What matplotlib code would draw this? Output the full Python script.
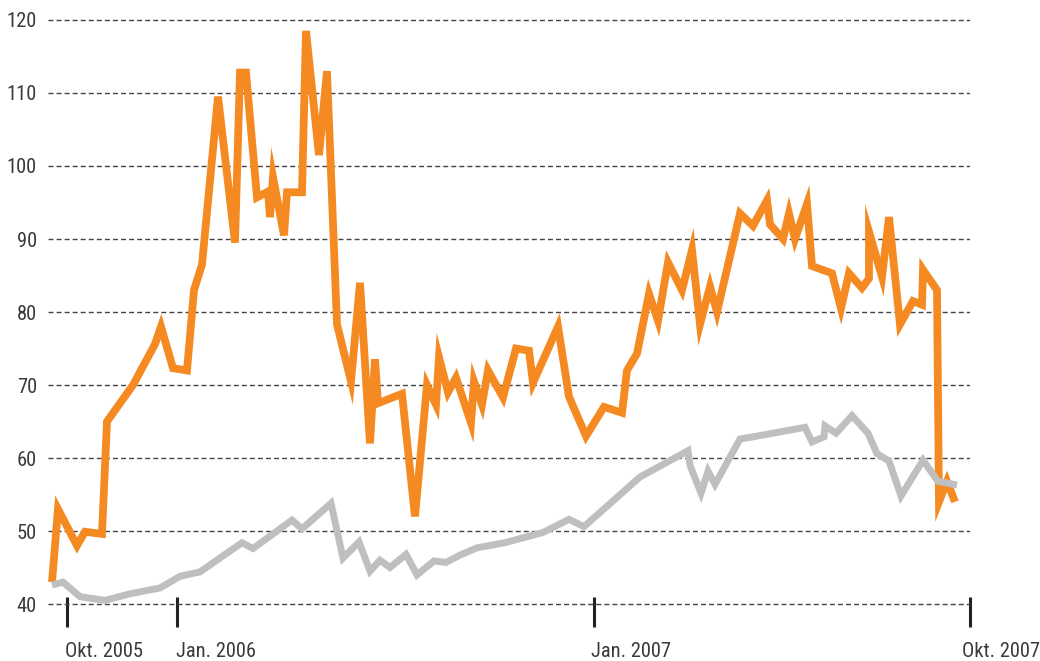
import matplotlib
matplotlib.use("Agg")
import matplotlib.pyplot as plt
from matplotlib import font_manager

# horizontal position of each reading (chart time axis, same unit as tick positions)
orange_x = [52, 58, 77, 85, 102, 107, 133, 155, 161, 173, 187, 194, 202, 218, 235,
            240, 246, 257, 268, 270, 273, 284, 287, 302, 306, 319, 327, 337, 351, 360,
            370, 375, 378, 402, 415, 427, 436, 439, 448, 456, 471, 474, 482, 488, 503,
            516, 529, 533, 558, 569, 586, 604, 622, 627, 637, 649, 658, 668, 682, 692,
            700, 710, 717, 740, 753, 767, 770, 783, 789, 795, 807, 812, 832, 841, 849,
            862, 869, 869, 882, 889, 900, 913, 922, 923, 937, 939, 947, 955]
orange_y = [43, 53, 48, 49.9, 49.6, 65, 70, 75.6, 78, 72.3, 72, 83, 86.5, 109.5, 89.5,
            112.8, 112.8, 95.7, 96.5, 93, 98.5, 90.5, 96.4, 96.4, 118.5, 101.5, 113, 78.3, 70.5, 84,
            62, 73.5, 67.5, 68.8, 52, 70, 67.3, 73.8, 69, 71, 64.8, 70.5, 67.3, 72, 68.3,
            75, 74.7, 70.3, 78, 68.4, 63, 67, 66.2, 72, 74.3, 82.5, 78.8, 86.8, 83, 88.5,
            78.3, 83.5, 80, 93.5, 91.8, 95.3, 92, 90, 93.5, 90, 94.8, 86.3, 85.3, 80.5, 85.3,
            83.3, 84.6, 91, 84.8, 93, 78.3, 81.5, 81, 85.8, 83, 54, 56.8, 54]

gray_x = [52, 63, 80, 105, 130, 160, 180, 200, 242, 253, 292, 302, 331, 343, 359,
          370, 380, 390, 406, 417, 434, 446, 460, 477, 505, 543, 569, 584, 640, 688,
          690, 701, 708, 715, 740, 757, 805, 812, 824, 825, 836, 852, 868, 877, 889,
          901, 923, 938, 957]
gray_y = [42.6, 43, 41, 40.5, 41.4, 42.2, 43.8, 44.4, 48.4, 47.6, 51.5, 50.3, 53.8, 46.3, 48.5,
          44.5, 46, 45, 46.8, 44, 45.9, 45.7, 46.7, 47.7, 48.4, 49.8, 51.6, 50.6, 57.4, 61,
          59, 55.2, 58.2, 56.4, 62.6, 63, 64.2, 62.2, 62.9, 64.4, 63.4, 65.8, 63.4, 60.6, 59.6,
          54.8, 59.7, 56.8, 56.3]

tick_pos = [67, 177, 594, 970]
tick_labels = ["Okt. 2005", "Jan. 2006", "Jan. 2007", "Okt. 2007"]
label_shift = [-2, -1, -3, -8]
y_ticks = [40, 50, 60, 70, 80, 90, 100, 110, 120]

installed = {f.name for f in font_manager.fontManager.ttflist}
font = "DejaVu Sans"
for cand in ["Liberation Sans Narrow", "DejaVu Sans Condensed", "Roboto Condensed", "Liberation Sans"]:
    if cand in installed:
        font = cand
        break
plt.rcParams["font.family"] = [font, "DejaVu Sans"]
fsize = 14.8 if "Narrow" in font or "Condensed" in font else 13.5

fig = plt.figure(figsize=(10.4, 6.61), dpi=100)
ax = fig.add_axes([0.04615, 0.0741, 0.88654, 0.9067])

ax.plot(orange_x, orange_y, color="#F58A22", lw=5.6,
        solid_joinstyle="miter", solid_capstyle="butt", zorder=3)
ax.plot(gray_x, gray_y, color="#BEBFC1", lw=5.0,
        solid_joinstyle="miter", solid_capstyle="butt", zorder=4)

ax.set_xlim(48, 970)
ax.set_ylim(40 - 8 / 7.3, 121)

for s in ax.spines.values():
    s.set_visible(False)

ax.set_yticks(y_ticks)
ax.set_yticklabels([str(v) for v in y_ticks])
ax.tick_params(axis="y", length=0, pad=8, labelsize=fsize, labelcolor="#3a3a3a")
ax.yaxis.grid(True, color="#444444", linestyle=(0, (3.6, 2.2)), linewidth=1.0)
ax.set_axisbelow(True)

ax.set_xticks(tick_pos)
ax.set_xticklabels([])
ax.tick_params(axis="x", direction="inout", length=21.6, width=2.2, color="#222222")

for pos, lab, sh in zip(tick_pos, tick_labels, label_shift):
    ax.text(pos + sh, -0.075, lab, transform=ax.get_xaxis_transform(),
            ha="left", va="baseline", fontsize=fsize, color="#3a3a3a")

fig.savefig("out.png", dpi=100)
